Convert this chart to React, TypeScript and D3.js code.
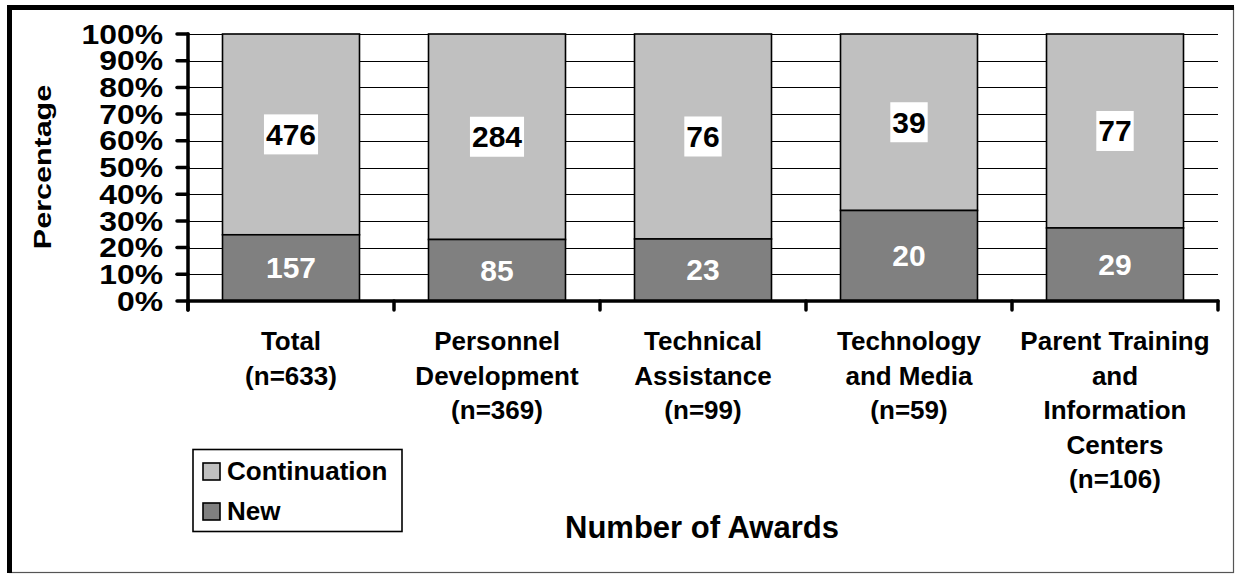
import React, { useEffect, useRef } from 'react';
import * as d3 from 'd3';

// Award counts per program area
const categories = ['Total', 'Personnel Development', 'Technical Assistance', 'Technology and Media', 'Parent Training and Information Centers'];
const categoryLines = [
  ['Total', '(n=633)'],
  ['Personnel', 'Development', '(n=369)'],
  ['Technical', 'Assistance', '(n=99)'],
  ['Technology', 'and Media', '(n=59)'],
  ['Parent Training', 'and', 'Information', 'Centers', '(n=106)'],
];
const newAwards = [157, 85, 23, 20, 29];
const continuationAwards = [476, 284, 76, 39, 77];
const yTicks = [0, 10, 20, 30, 40, 50, 60, 70, 80, 90, 100];

const WIDTH = 1236;
const HEIGHT = 574;
const FONT = '"Liberation Sans", Arial, Helvetica, sans-serif';
const NEW_COLOR = '#808080';
const CONT_COLOR = '#c0c0c0';

const App: React.FC = () => {
  const svgRef = useRef<SVGSVGElement>(null);

  useEffect(() => {
    if (!svgRef.current) return;
    const svg = d3.select(svgRef.current);
    svg.selectAll('*').remove();

    const plot = { left: 188, right: 1218, top: 34, bottom: 301 };

    const x = d3.scaleBand()
      .domain(categories)
      .range([plot.left, plot.right])
      .paddingInner(0.335)
      .paddingOuter(0.1675);

    const y = d3.scaleLinear()
      .domain([0, 100])
      .range([plot.bottom, plot.top]);

    // white background
    svg.append('rect')
      .attr('x', 0).attr('y', 0)
      .attr('width', WIDTH).attr('height', HEIGHT)
      .attr('fill', '#fff');

    // outer frame: thin right/bottom, thick left/top
    svg.append('rect')
      .attr('x', 9.5).attr('y', 7.5)
      .attr('width', 1224).attr('height', 565)
      .attr('fill', 'none')
      .attr('stroke', '#555')
      .attr('stroke-width', 1.2);
    svg.append('rect').attr('x', 7).attr('y', 5).attr('width', 5).attr('height', 568).attr('fill', '#000');
    svg.append('rect').attr('x', 7).attr('y', 5).attr('width', 1227).attr('height', 5).attr('fill', '#000');

    // gridlines
    svg.append('g')
      .selectAll('line')
      .data(yTicks.filter(t => t > 0))
      .join('line')
      .attr('x1', plot.left)
      .attr('x2', plot.right)
      .attr('y1', d => Math.round(y(d)) + 0.5)
      .attr('y2', d => Math.round(y(d)) + 0.5)
      .attr('stroke', '#000')
      .attr('stroke-width', 1);

    // stacked bars
    const bars = svg.append('g');
    categories.forEach((cat, i) => {
      const total = newAwards[i] + continuationAwards[i];
      const newPct = (newAwards[i] / total) * 100;
      const bx = x(cat) || 0;
      const bw = x.bandwidth();

      bars.append('rect')
        .attr('x', bx)
        .attr('y', y(100))
        .attr('width', bw)
        .attr('height', y(newPct) - y(100))
        .attr('fill', CONT_COLOR)
        .attr('stroke', '#000')
        .attr('stroke-width', 1.6);

      bars.append('rect')
        .attr('x', bx)
        .attr('y', y(newPct))
        .attr('width', bw)
        .attr('height', y(0) - y(newPct))
        .attr('fill', NEW_COLOR)
        .attr('stroke', '#000')
        .attr('stroke-width', 1.6);

      // continuation label in white box
      const cy = (y(100) + y(newPct)) / 2;
      const boxG = bars.append('g');
      const contText = boxG.append('text')
        .attr('x', bx + bw / 2)
        .attr('y', cy)
        .attr('text-anchor', 'middle')
        .attr('dominant-baseline', 'central')
        .attr('font-family', FONT)
        .attr('font-weight', 'bold')
        .attr('font-size', 30)
        .attr('fill', '#000')
        .text(continuationAwards[i]);
      const tw = (contText.node() as SVGTextElement).getComputedTextLength();
      boxG.insert('rect', 'text')
        .attr('x', bx + bw / 2 - tw / 2 - 2)
        .attr('y', cy - 20)
        .attr('width', tw + 4)
        .attr('height', 40)
        .attr('fill', '#fff');

      // new label
      bars.append('text')
        .attr('x', bx + bw / 2)
        .attr('y', (y(newPct) + y(0)) / 2)
        .attr('text-anchor', 'middle')
        .attr('dominant-baseline', 'central')
        .attr('font-family', FONT)
        .attr('font-weight', 'bold')
        .attr('font-size', 30)
        .attr('fill', '#fff')
        .text(newAwards[i]);
    });

    // y axis
    const axis = svg.append('g')
      .attr('stroke', '#000')
      .attr('stroke-width', 3.5)
      .attr('stroke-linecap', 'round');
    axis.append('line')
      .attr('x1', plot.left).attr('x2', plot.left)
      .attr('y1', y(100)).attr('y2', plot.bottom + 9);
    yTicks.forEach(t => {
      axis.append('line')
        .attr('x1', plot.left - 11).attr('x2', plot.left)
        .attr('y1', y(t)).attr('y2', y(t));
    });

    // x axis
    axis.append('line')
      .attr('x1', plot.left).attr('x2', plot.right)
      .attr('y1', plot.bottom).attr('y2', plot.bottom);
    const step = x.step();
    d3.range(categories.length + 1).forEach(k => {
      const tx = plot.left + k * step;
      axis.append('line')
        .attr('x1', tx).attr('x2', tx)
        .attr('y1', plot.bottom).attr('y2', plot.bottom + 9);
    });

    // y tick labels
    svg.append('g')
      .selectAll('text')
      .data(yTicks)
      .join('text')
      .attr('transform', d => `translate(163,${y(d)}) scale(1.18,1)`)
      .attr('text-anchor', 'end')
      .attr('dominant-baseline', 'central')
      .attr('font-family', FONT)
      .attr('font-weight', 'bold')
      .attr('font-size', 27)
      .attr('fill', '#000')
      .text(d => `${d}%`);

    // y axis title
    svg.append('text')
      .attr('transform', 'translate(51,167) rotate(-90) scale(1.27,1)')
      .attr('text-anchor', 'middle')
      .attr('font-family', FONT)
      .attr('font-weight', 'bold')
      .attr('font-size', 24)
      .attr('fill', '#000')
      .text('Percentage');

    // category labels
    categories.forEach((cat, i) => {
      const cx = (x(cat) || 0) + x.bandwidth() / 2;
      const t = svg.append('text')
        .attr('text-anchor', 'middle')
        .attr('font-family', FONT)
        .attr('font-weight', 'bold')
        .attr('font-size', 26)
        .attr('fill', '#000');
      categoryLines[i].forEach((line, li) => {
        t.append('tspan')
          .attr('x', cx)
          .attr('y', 350 + li * 34.5)
          .text(line);
      });
    });

    // x axis title
    svg.append('text')
      .attr('x', 702)
      .attr('y', 538)
      .attr('text-anchor', 'middle')
      .attr('font-family', FONT)
      .attr('font-weight', 'bold')
      .attr('font-size', 31)
      .attr('fill', '#000')
      .text('Number of Awards');

    // legend
    const legend = svg.append('g');
    legend.append('rect')
      .attr('x', 193).attr('y', 449.5)
      .attr('width', 209).attr('height', 82)
      .attr('fill', '#fff')
      .attr('stroke', '#000')
      .attr('stroke-width', 1.6);
    const legendItems = [
      { label: 'Continuation', color: CONT_COLOR },
      { label: 'New', color: NEW_COLOR },
    ];
    legendItems.forEach((item, i) => {
      legend.append('rect')
        .attr('x', 203).attr('y', 463 + i * 40)
        .attr('width', 17).attr('height', 17)
        .attr('fill', item.color)
        .attr('stroke', '#000')
        .attr('stroke-width', 1.6);
      legend.append('text')
        .attr('x', 227)
        .attr('y', 480 + i * 40)
        .attr('font-family', FONT)
        .attr('font-weight', 'bold')
        .attr('font-size', 26)
        .attr('fill', '#000')
        .text(item.label);
    });
  }, []);

  return (
    <svg
      ref={svgRef}
      width={WIDTH}
      height={HEIGHT}
      style={{ position: 'absolute', left: 0, top: 0, display: 'block' }}
    />
  );
};

export default App;
